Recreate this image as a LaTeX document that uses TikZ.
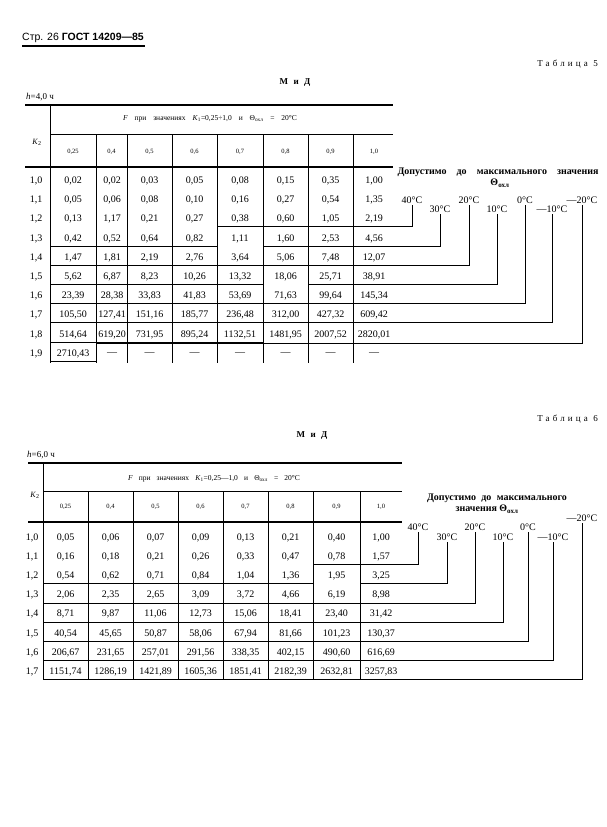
\documentclass[tikz,border=0pt]{standalone}
\usepackage{fontspec}
\setmainfont{Liberation Serif}
\newfontfamily\hdrsans{Liberation Sans}
\newfontfamily\spaceser[LetterSpace=35]{Liberation Serif}
\begin{document}
\begin{tikzpicture}[x=1pt,y=-1pt,
  valt/.style={font=\fontsize{10}{12}\selectfont, inner sep=0pt},
  rowl/.style={font=\fontsize{10}{12}\selectfont, inner sep=0pt},
  coltxt/.style={font=\fontsize{6.5}{8}\selectfont, inner sep=0pt},
  tlab/.style={font=\fontsize{10}{12}\selectfont, inner sep=0.8pt, anchor=south},
  gridline/.style={line width=0.6pt},
  stair/.style={line width=0.95pt},
  rulex/.style={line width=1.2pt},
  txt/.style={inner sep=0pt}]
\useasboundingbox (0,0) rectangle (606,827);

% ---------- page header ----------
\node[txt, anchor=west, font=\hdrsans\fontsize{10.5}{12}\selectfont] (pghead) at (22,38) {Стр. 26 \bfseries ГОСТ 14209—85};
\draw[line width=1.2pt] (pghead.south west |- 0,46) -- (145,46);

% =================== TABLE 5 ===================
\node[txt, anchor=east, font=\spaceser\fontsize{9}{11}\selectfont] (t5title) at (598,64) {Таблица 5};
\node[txt, font=\spaceser\bfseries\fontsize{9}{11}\selectfont] (t5md) at (295,83) {М и Д};
\node[txt, anchor=west, font=\fontsize{9}{11}\selectfont] (t5h) at (26,97) {\textit{h}=4,0 ч};

% rules and grid
\draw[rulex] (25,105) -- (393,105);
\draw[gridline] (50,134) -- (393,134);
\draw[rulex] (25,167) -- (393,167);
\draw[gridline] (50,105) -- (50,363);
\foreach \xs in {96,127,172,217,263,308,353}
  \draw[gridline] (\xs,134) -- (\xs,363);

\node[txt, font=\fontsize{7.5}{8}\selectfont] (t5F) at (210,119)
  {\makebox[174pt][s]{\textit{F} при значениях \textit{K}\textsubscript{1}=0,25÷1,0 и Θ\textsubscript{охл} = 20°C}};
\node[txt, font=\fontsize{8}{9}\selectfont] (t5K) at (37,142) {\textit{K}\textsubscript{2}};
\foreach \cx/\ct [count=\i] in {73/{0,25},111.5/{0,4},149.5/{0,5},194.5/{0,6},240/{0,7},285.5/{0,8},330.5/{0,9},374/{1,0}}
  \node[coltxt] (t5c\i) at (\cx,152) {\ct};

\foreach \r/\lab/\va/\vb/\vc/\vd/\ve/\vf/\vg/\vh in {
0/{1,0}/{0,02}/{0,02}/{0,03}/{0,05}/{0,08}/{0,15}/{0,35}/{1,00},
1/{1,1}/{0,05}/{0,06}/{0,08}/{0,10}/{0,16}/{0,27}/{0,54}/{1,35},
2/{1,2}/{0,13}/{1,17}/{0,21}/{0,27}/{0,38}/{0,60}/{1,05}/{2,19},
3/{1,3}/{0,42}/{0,52}/{0,64}/{0,82}/{1,11}/{1,60}/{2,53}/{4,56},
4/{1,4}/{1,47}/{1,81}/{2,19}/{2,76}/{3,64}/{5,06}/{7,48}/{12,07},
5/{1,5}/{5,62}/{6,87}/{8,23}/{10,26}/{13,32}/{18,06}/{25,71}/{38,91},
6/{1,6}/{23,39}/{28,38}/{33,83}/{41,83}/{53,69}/{71,63}/{99,64}/{145,34},
7/{1,7}/{105,50}/{127,41}/{151,16}/{185,77}/{236,48}/{312,00}/{427,32}/{609,42},
8/{1,8}/{514,64}/{619,20}/{731,95}/{895,24}/{1132,51}/{1481,95}/{2007,52}/{2820,01},
9/{1,9}/{2710,43}/{—}/{—}/{—}/{—}/{—}/{—}/{—}}
{
  \pgfmathsetmacro\yy{181+19.2*\r}
  \node[rowl] (t5k\r) at (36,\yy) {\lab};
  \node[valt] (t5v\r-1) at (73,\yy) {\va};
  \node[valt] (t5v\r-2) at (112,\yy) {\vb};
  \node[valt] (t5v\r-3) at (149.5,\yy) {\vc};
  \node[valt] (t5v\r-4) at (194.5,\yy) {\vd};
  \node[valt] (t5v\r-5) at (240,\yy) {\ve};
  \node[valt] (t5v\r-6) at (285.5,\yy) {\vf};
  \node[valt] (t5v\r-7) at (330.5,\yy) {\vg};
  \node[valt] (t5v\r-8) at (374,\yy) {\vh};
}

% legend table 5
\node[txt, font=\bfseries\fontsize{10}{11}\selectfont] (t5dop) at (498,172) {\makebox[201pt][s]{Допустимо до максимального значения}};
\node[txt, font=\bfseries\fontsize{10}{11}\selectfont] (t5theta) at (500,183) {Θ\textsubscript{охл}};
\node[tlab] (t5l40) at (412,205) {40°C};
\node[tlab] (t5l30) at (440,214) {30°C};
\node[tlab] (t5l20) at (469,205) {20°C};
\node[tlab] (t5l10) at (497,214) {10°C};
\node[tlab] (t5l0) at (525,205) {0°C};
\node[tlab] (t5lm10) at (552,214) {—10°C};
\node[tlab] (t5lm20) at (582,205) {—20°C};

\draw[stair] (50,246.1) -- (217,246.1) -- (217,226.9) -- (412,226.9) -- (t5l40.south);
\draw[stair] (50,265.3) -- (263,265.3) -- (263,246.1) -- (440,246.1) -- (t5l30.south);
\draw[stair] (50,284.5) -- (263,284.5) -- (263,265.3) -- (469,265.3) -- (t5l20.south);
\draw[stair] (50,303.7) -- (308,303.7) -- (308,284.5) -- (497,284.5) -- (t5l10.south);
\draw[stair] (50,322.9) -- (308,322.9) -- (308,303.7) -- (525,303.7) -- (t5l0.south);
\draw[stair] (50,342.1) -- (263,342.1) -- (263,322.9) -- (552,322.9) -- (t5lm10.south);
\draw[stair] (50,361.3) -- (96,361.3) -- (96,343.3) -- (582,343.3) -- (t5lm20.south);

% =================== TABLE 6 ===================
\node[txt, anchor=east, font=\spaceser\fontsize{9}{11}\selectfont] (t6title) at (598,419) {Таблица 6};
\node[txt, font=\spaceser\bfseries\fontsize{9}{11}\selectfont] (t6md) at (312,436) {М и Д};
\node[txt, anchor=west, font=\fontsize{9}{11}\selectfont] (t6h) at (27,455) {\textit{h}=6,0 ч};

\draw[rulex] (28,463) -- (402,463);
\draw[gridline] (43,491) -- (402,491);
\draw[rulex] (28,522) -- (402,522);
\draw[gridline] (43,463) -- (43,680);
\foreach \xs in {88,133,178,223,268,313,360}
  \draw[gridline] (\xs,491) -- (\xs,680);

\node[txt, font=\fontsize{7.5}{8}\selectfont] (t6F) at (214,479)
  {\makebox[172pt][s]{\textit{F} при значениях \textit{K}\textsubscript{1}=0,25—1,0 и Θ\textsubscript{охл} = 20°C}};
\node[txt, font=\fontsize{8}{9}\selectfont] (t6K) at (35,495) {\textit{K}\textsubscript{2}};
\foreach \cx/\ct [count=\i] in {65.5/{0,25},110.5/{0,4},155.5/{0,5},200.5/{0,6},245.5/{0,7},290.5/{0,8},336.5/{0,9},381/{1,0}}
  \node[coltxt] (t6c\i) at (\cx,507) {\ct};

\foreach \r/\lab/\va/\vb/\vc/\vd/\ve/\vf/\vg/\vh in {
0/{1,0}/{0,05}/{0,06}/{0,07}/{0,09}/{0,13}/{0,21}/{0,40}/{1,00},
1/{1,1}/{0,16}/{0,18}/{0,21}/{0,26}/{0,33}/{0,47}/{0,78}/{1,57},
2/{1,2}/{0,54}/{0,62}/{0,71}/{0,84}/{1,04}/{1,36}/{1,95}/{3,25},
3/{1,3}/{2,06}/{2,35}/{2,65}/{3,09}/{3,72}/{4,66}/{6,19}/{8,98},
4/{1,4}/{8,71}/{9,87}/{11,06}/{12,73}/{15,06}/{18,41}/{23,40}/{31,42},
5/{1,5}/{40,54}/{45,65}/{50,87}/{58,06}/{67,94}/{81,66}/{101,23}/{130,37},
6/{1,6}/{206,67}/{231,65}/{257,01}/{291,56}/{338,35}/{402,15}/{490,60}/{616,69},
7/{1,7}/{1151,74}/{1286,19}/{1421,89}/{1605,36}/{1851,41}/{2182,39}/{2632,81}/{3257,83}}
{
  \pgfmathsetmacro\yy{537.5+19.2*\r}
  \node[rowl] (t6k\r) at (32,\yy) {\lab};
  \node[valt] (t6v\r-1) at (65.5,\yy) {\va};
  \node[valt] (t6v\r-2) at (110.5,\yy) {\vb};
  \node[valt] (t6v\r-3) at (155.5,\yy) {\vc};
  \node[valt] (t6v\r-4) at (200.5,\yy) {\vd};
  \node[valt] (t6v\r-5) at (245.5,\yy) {\ve};
  \node[valt] (t6v\r-6) at (290.5,\yy) {\vf};
  \node[valt] (t6v\r-7) at (336.5,\yy) {\vg};
  \node[valt] (t6v\r-8) at (381,\yy) {\vh};
}

% legend table 6
\node[txt, font=\bfseries\fontsize{10}{11}\selectfont] (t6dop1) at (497,498) {\makebox[140pt][s]{Допустимо до максимального}};
\node[txt, font=\bfseries\fontsize{10}{11}\selectfont] (t6dop2) at (487,509) {значения Θ\textsubscript{охл}};
\node[tlab] (t6l40) at (418,532) {40°C};
\node[tlab] (t6l30) at (447,542) {30°C};
\node[tlab] (t6l20) at (475,532) {20°C};
\node[tlab] (t6l10) at (503,542) {10°C};
\node[tlab] (t6l0) at (528,532) {0°C};
\node[tlab] (t6lm10) at (553,542) {—10°C};
\node[tlab] (t6lm20) at (582,523) {—20°C};

\draw[stair] (43,583.9) -- (313,583.9) -- (313,564.7) -- (418,564.7) -- (t6l40.south);
\draw[stair] (43,603.1) -- (360,603.1) -- (360,583.9) -- (447,583.9) -- (t6l30.south);
\draw[stair] (43,622.3) -- (360,622.3) -- (360,603.1) -- (475,603.1) -- (t6l20.south);
\draw[stair] (43,641.5) -- (313,641.5) -- (313,622.3) -- (503,622.3) -- (t6l10.south);
\draw[stair] (43,660.7) -- (268,660.7) -- (268,641.5) -- (528,641.5) -- (t6l0.south);
\draw[stair] (43,679.9) -- (178,679.9) -- (178,660.7) -- (553,660.7) -- (t6lm10.south);
\draw[stair] (43,679.9) -- (582,679.9) -- (t6lm20.south);
\end{tikzpicture}
\end{document}
